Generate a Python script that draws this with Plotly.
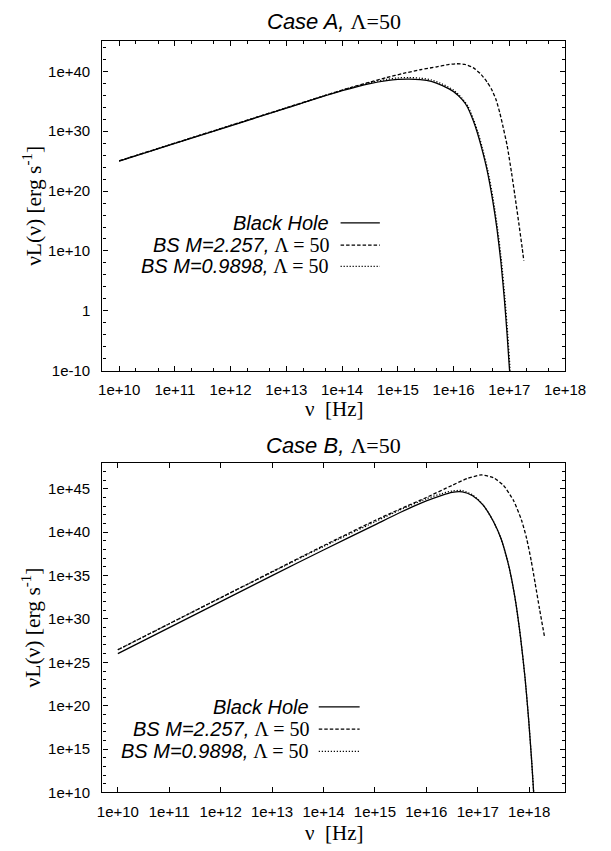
import plotly.graph_objects as go

W, H = 611, 851

# ---------------- data (log10 of frequency [Hz] and of nu*L(nu) [erg/s]) ----------------
# Case A
a_bh_lognu = [10.0, 11.0, 12.0, 13.0, 14.0, 14.5, 14.8, 15.0, 15.2, 15.4, 15.6, 15.8, 16.0, 16.15,
              16.25, 16.35, 16.42, 16.5, 16.6, 16.7, 16.78, 16.85, 16.91, 16.96, 17.0, 17.02]
a_bh_logL = [25.0, 27.95, 30.9, 33.85, 36.75, 37.95, 38.45, 38.65, 38.7, 38.6, 38.3, 37.6, 36.6, 35.3,
             34.0, 31.8, 29.9, 27.3, 23.5, 18.5, 13.5, 8.0, 2.0, -4.0, -9.5, -12.0]

a_bs1_lognu = [10.0, 11.0, 12.0, 13.0, 14.0, 14.5, 14.8, 15.0, 15.2, 15.4, 15.6, 15.8, 16.0, 16.15,
               16.26, 16.36, 16.43, 16.51, 16.61, 16.71, 16.79, 16.86, 16.92, 16.97, 17.01, 17.03]
a_bs1_logL = [25.05, 28.0, 30.95, 33.9, 36.85, 38.1, 38.65, 38.9, 38.95, 38.85, 38.55, 37.85, 36.85, 35.5,
              34.1, 31.9, 30.0, 27.4, 23.6, 18.6, 13.6, 8.1, 2.1, -3.9, -9.4, -12.0]

a_bs2_lognu = [10.0, 11.0, 12.0, 13.0, 14.0, 14.5, 14.8, 15.1, 15.4, 15.7, 15.9, 16.05, 16.2, 16.35,
               16.49, 16.6, 16.68, 16.76, 16.83, 16.89, 16.96, 17.04, 17.1, 17.17, 17.23, 17.26]
a_bs2_logL = [25.05, 28.0, 30.95, 33.9, 36.85, 38.2, 38.95, 39.65, 40.25, 40.75, 41.1, 41.25, 41.15, 40.6,
              39.5, 38.2, 37.0, 35.3, 33.0, 30.6, 27.6, 23.0, 19.2, 14.6, 10.5, 8.35]

# Case B
b_bh_lognu = [10.0, 11.0, 12.0, 13.0, 14.0, 15.0, 15.5, 16.0, 16.3, 16.5, 16.7, 16.9, 17.1, 17.3,
              17.45, 17.6, 17.72, 17.83, 17.92, 17.99, 18.05, 18.1]
b_bh_logL = [26.0, 29.0, 32.0, 35.0, 37.95, 40.85, 42.3, 43.6, 44.25, 44.6, 44.65, 44.2, 43.15, 41.3,
             39.3, 36.2, 32.6, 28.0, 23.2, 18.4, 13.5, 8.8]

b_bs1_lognu = [10.0, 11.0, 12.0, 13.0, 14.0, 15.0, 15.5, 16.0, 16.3, 16.5, 16.7, 16.9, 17.1, 17.3,
               17.45, 17.6, 17.72, 17.83, 17.92, 17.99, 18.05, 18.1]
b_bs1_logL = [26.45, 29.45, 32.45, 35.4, 38.35, 41.2, 42.6, 43.85, 44.45, 44.75, 44.8, 44.3, 43.2, 41.3,
              39.3, 36.2, 32.6, 28.0, 23.2, 18.4, 13.5, 8.8]

b_bs2_lognu = [10.0, 11.0, 12.0, 13.0, 14.0, 15.0, 15.5, 16.0, 16.5, 16.8, 17.07, 17.3, 17.5, 17.7,
               17.85, 17.95, 18.04, 18.12, 18.2, 18.3]
b_bs2_logL = [26.45, 29.45, 32.45, 35.45, 38.45, 41.35, 42.7, 44.0, 45.4, 46.2, 46.6, 46.3, 45.4, 43.6,
              41.4, 39.3, 36.7, 34.0, 31.2, 27.9]

# tick labels
a_x_tickexp = [10, 11, 12, 13, 14, 15, 16, 17, 18]
a_x_ticktext = ["1e+10", "1e+11", "1e+12", "1e+13", "1e+14", "1e+15", "1e+16", "1e+17", "1e+18"]
a_y_tickexp = [-10, 0, 10, 20, 30, 40]
a_y_ticktext = ["1e-10", "1", "1e+10", "1e+20", "1e+30", "1e+40"]
b_x_tickexp = [10, 11, 12, 13, 14, 15, 16, 17, 18]
b_x_ticktext = ["1e+10", "1e+11", "1e+12", "1e+13", "1e+14", "1e+15", "1e+16", "1e+17", "1e+18"]
b_y_tickexp = [10, 15, 20, 25, 30, 35, 40, 45]
b_y_ticktext = ["1e+10", "1e+15", "1e+20", "1e+25", "1e+30", "1e+35", "1e+40", "1e+45"]

series_names = ["Black Hole", "BS M=2.257, \u039b = 50", "BS M=0.9898, \u039b = 50"]
panel_titles = ["Case A,", "Case B,"]

# ---------------- styles ----------------
SANS = "Liberation Sans"
SERIF = "Liberation Serif"
DASH = {"solid": "solid", "dash": "3.5px,2px", "dot": "1.2px,1.8px"}
LW = 1.3

# plot area geometry in pixels
PX_L, PX_R = 101.7, 585.0
TOP_T, TOP_B = 41.7, 374.3
BOT_T, BOT_B = 467.2, 800.0


def px2fx(px):
    return px / W


def py2fy(py):
    return 1 - py / H


def pw(v):
    return [10.0 ** float(e) for e in v]


fig = go.Figure()

panels = [
    ("x", "y", [(a_bh_lognu, a_bh_logL, "solid"), (a_bs2_lognu, a_bs2_logL, "dash"), (a_bs1_lognu, a_bs1_logL, "dot")]),
    ("x2", "y2", [(b_bh_lognu, b_bh_logL, "solid"), (b_bs2_lognu, b_bs2_logL, "dash"), (b_bs1_lognu, b_bs1_logL, "dot")]),
]
for xa, ya, curves in panels:
    for (lx, ly, st), name in zip(curves, series_names):
        fig.add_trace(go.Scatter(
            x=pw(lx), y=pw(ly), mode="lines", name=name, xaxis=xa, yaxis=ya,
            line=dict(color="black", width=LW, dash=DASH[st], shape="spline", smoothing=0.6),
            showlegend=False, hoverinfo="skip"))

axis_common = dict(
    type="log", showgrid=False, zeroline=False, showline=True, linecolor="black", linewidth=1.3,
    mirror="allticks", ticks="inside", ticklen=5, tickwidth=1, tickcolor="black",
    tickfont=dict(family=SANS, size=15, color="black"),
)

fig.update_layout(
    width=W, height=H, margin=dict(l=0, r=0, t=0, b=0),
    paper_bgcolor="white", plot_bgcolor="white", showlegend=False,
    xaxis=dict(axis_common, domain=[px2fx(PX_L), px2fx(PX_R)], range=[9.699, 18.0], anchor="y",
               tickvals=pw(a_x_tickexp), ticktext=a_x_ticktext, ticklabelstandoff=5,
               minor=dict(ticks="inside", ticklen=2.5, tickcolor="black", dtick="D2")),
    yaxis=dict(axis_common, domain=[py2fy(TOP_B), py2fy(TOP_T)], range=[-10, 45], anchor="x",
               tickvals=pw(a_y_tickexp), ticktext=a_y_ticktext, ticklabelstandoff=8,
               minor=dict(ticks="inside", ticklen=3, tickcolor="black", dtick=2, tick0=0)),
    xaxis2=dict(axis_common, domain=[px2fx(PX_L), px2fx(PX_R)], range=[9.699, 18.699], anchor="y2",
                tickvals=pw(b_x_tickexp), ticktext=b_x_ticktext, ticklabelstandoff=5),
    yaxis2=dict(axis_common, domain=[py2fy(BOT_B), py2fy(BOT_T)], range=[10, 48], anchor="x2",
                tickvals=pw(b_y_tickexp), ticktext=b_y_ticktext, ticklabelstandoff=8,
                minor=dict(ticks="inside", ticklen=3, tickcolor="black", dtick=1, tick0=0)),
)

serif_span = "<span style='font-family:%s'>%s</span>" % (SERIF, "{}")
ann = []
cx = px2fx((PX_L + PX_R) / 2)
for title, ty in zip(panel_titles, [21.7, 449.5]):
    ann.append(dict(text="<i>%s</i> " % title + serif_span.format("\u039b=50"), x=cx, y=py2fy(ty),
                    xref="paper", yref="paper", showarrow=False, xanchor="center", yanchor="middle",
                    font=dict(family=SANS, size=22, color="black")))
for yc in [(TOP_T + TOP_B) / 2, (BOT_T + BOT_B) / 2]:
    ann.append(dict(text="\u03bdL(\u03bd) [erg s<sup>-1</sup>]", x=px2fx(28), y=py2fy(yc), textangle=-90,
                    xref="paper", yref="paper", showarrow=False, xanchor="center", yanchor="middle",
                    font=dict(family=SERIF, size=21.5, color="black")))
for yx in [413.3, 841.0]:
    ann.append(dict(text="\u03bd  [Hz]", x=cx, y=py2fy(yx), xref="paper", yref="paper",
                    showarrow=False, xanchor="center", yanchor="middle",
                    font=dict(family=SERIF, size=21, color="black")))

# legends (gnuplot style: right-justified text, sample line on the right)
shapes = []
legend_specs = [
    (340.8, 350.5, 391.5, [225.0, 247.5, 269.0]),
    (320.0, 327.7, 370.4, [713.5, 736.0, 758.5]),
]
styles = ["solid", "dash", "dot"]
for tx, l0, l1, ys in legend_specs:
    for name, st, yy in zip(series_names, styles, ys):
        if "," in name:
            head, tail = name.split(",", 1)
            txt = "<i>%s,</i>" % head + serif_span.format(tail)
        else:
            txt = "<i>%s</i>" % name
        ann.append(dict(text=txt, x=px2fx(tx), y=py2fy(yy), xref="paper", yref="paper",
                        showarrow=False, xanchor="right", yanchor="middle",
                        font=dict(family=SANS, size=20, color="black")))
        shapes.append(dict(type="line", xref="paper", yref="paper", x0=px2fx(l0), x1=px2fx(l1),
                           y0=py2fy(yy), y1=py2fy(yy), line=dict(color="black", width=LW, dash=DASH[st])))

fig.update_layout(annotations=ann, shapes=shapes)

fig.write_html("out.html", config={"displayModeBar": False},
               post_script="document.body.style.margin='0';")
